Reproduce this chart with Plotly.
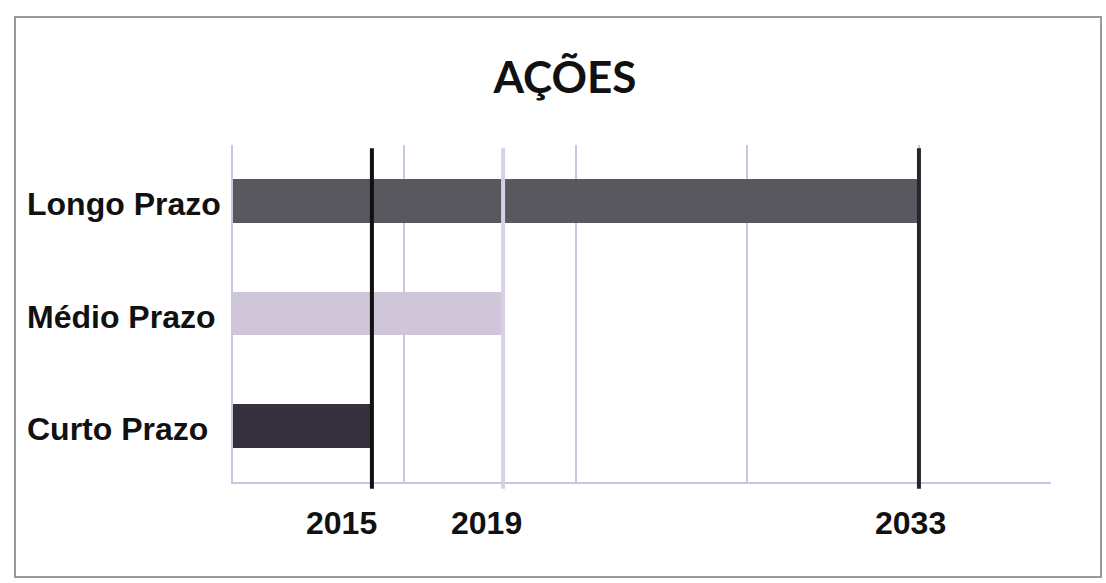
import plotly.graph_objects as go

# ---- data ----
categories = ["Curto Prazo", "Médio Prazo", "Longo Prazo"]   # bottom -> top
bar_end = [0.81, 1.575, 4.0]                                 # bar lengths on the chart's horizontal scale
marker_years = ["2015", "2019", "2033"]
marker_pos = [0.81, 1.575, 4.0]                              # where each year sits on the scale
title_text = "AÇÕES"

# ---- styles ----
bar_colors = ["#37313f", "#cfc6da", "#59585e"]
marker_colors = ["#111111", "#d9d1e3", "#26262c"]
year_label_shift = [-30, -17, -8]
grid_color = "#c9c6df"
W, H = 1106, 583
L, R, T, B = 233, 55, 145, 101
pw, ph = W - L - R, H - T - B

fig = go.Figure()
fig.add_trace(go.Bar(
    y=categories, x=bar_end, orientation="h", base=0,
    marker=dict(color=bar_colors, line=dict(width=0)),
    width=0.39, showlegend=False, hoverinfo="skip",
))

shapes = []
for pos, col in zip(marker_pos, marker_colors):
    shapes.append(dict(type="line", xref="x", yref="paper", x0=pos, x1=pos,
                       y0=-0.02, y1=0.99, line=dict(color=col, width=4), layer="above"))
# outer frame
shapes.append(dict(type="rect", xref="paper", yref="paper",
                   x0=(15 - L) / pw, x1=(1101 - L) / pw,
                   y0=-(577 - (H - B)) / ph, y1=((H - B) - 17) / ph,
                   line=dict(color="#9a9a9a", width=2), layer="below"))

annotations = []
for cat in categories:
    annotations.append(dict(xref="paper", yref="y", x=-(L - 25) / pw, y=cat,
                            xanchor="left", yanchor="middle", yshift=-3, showarrow=False,
                            text=f"<b>{cat}</b>",
                            font=dict(family="Liberation Sans, Arial", size=32, color="#111111")))
for yr, pos, sh in zip(marker_years, marker_pos, year_label_shift):
    annotations.append(dict(xref="x", yref="paper", x=pos, y=0, xanchor="center",
                            yanchor="middle", yshift=-41, xshift=sh, showarrow=False,
                            text=f"<b>{yr}</b>",
                            font=dict(family="Liberation Sans, Arial", size=32, color="#111111")))

fig.update_layout(
    width=W, height=H,
    margin=dict(l=L, r=R, t=T, b=B),
    paper_bgcolor="white", plot_bgcolor="white",
    title=dict(text=f"<b>{title_text}</b>", x=565 / W, xref="container", xanchor="center",
               y=1 - 78 / H, yref="container", yanchor="middle",
               font=dict(family="Lato, Open Sans", size=44, color="#111111")),
    xaxis=dict(range=[0, 4.77], tickmode="linear", tick0=0, dtick=1, showticklabels=False,
               showgrid=True, gridcolor=grid_color, gridwidth=2, zeroline=False,
               showline=True, linecolor=grid_color, linewidth=2, ticks=""),
    yaxis=dict(range=[-0.5, 2.5], type="category", categoryorder="array", categoryarray=categories,
               showticklabels=False, showgrid=False, zeroline=False,
               showline=True, linecolor=grid_color, linewidth=2, ticks=""),
    shapes=shapes, annotations=annotations, bargap=0,
)

fig.write_html("out.html", config={"displayModeBar": False},
               post_script="document.body.style.margin='0';")
